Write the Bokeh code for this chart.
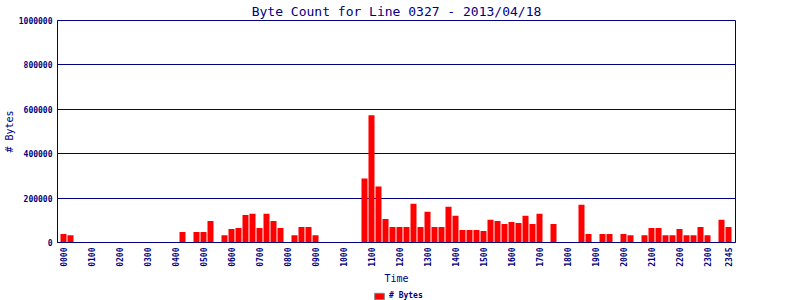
from bokeh.plotting import figure
from bokeh.models import ColumnDataSource, Range1d, FixedTicker, Legend, LegendItem
from bokeh.layouts import column
from bokeh.embed import file_html
from bokeh.resources import INLINE
import math

times = ["0000", "0015", "0030", "0045", "0100", "0115", "0130", "0145",
         "0200", "0215", "0230", "0245", "0300", "0315", "0330", "0345",
         "0400", "0415", "0430", "0445", "0500", "0515", "0530", "0545",
         "0600", "0615", "0630", "0645", "0700", "0715", "0730", "0745",
         "0800", "0815", "0830", "0845", "0900", "0915", "0930", "0945",
         "1000", "1015", "1030", "1045", "1100", "1115", "1130", "1145",
         "1200", "1215", "1230", "1245", "1300", "1315", "1330", "1345",
         "1400", "1415", "1430", "1445", "1500", "1515", "1530", "1545",
         "1600", "1615", "1630", "1645", "1700", "1715", "1730", "1745",
         "1800", "1815", "1830", "1845", "1900", "1915", "1930", "1945",
         "2000", "2015", "2030", "2045", "2100", "2115", "2130", "2145",
         "2200", "2215", "2230", "2245", "2300", "2315", "2330", "2345"]

byte_counts = [38000, 33000, 0, 0, 0, 0, 0, 0,
               0, 0, 0, 0, 0, 0, 0, 0,
               0, 47000, 0, 47000, 47000, 97000, 0, 33000,
               61000, 65000, 124000, 129000, 65000, 129000, 97000, 65000,
               0, 33000, 70000, 70000, 33000, 0, 0, 0,
               0, 0, 0, 288000, 573000, 252000, 106000, 70000,
               70000, 70000, 174000, 70000, 138000, 70000, 70000, 161000,
               120000, 56000, 56000, 56000, 52000, 102000, 97000, 83000,
               92000, 88000, 120000, 83000, 129000, 0, 83000, 0,
               0, 0, 170000, 38000, 0, 38000, 38000, 0,
               38000, 33000, 0, 33000, 65000, 65000, 33000, 33000,
               61000, 33000, 33000, 70000, 33000, 0, 102000, 70000]

x_tick_labels = ["0000", "0100", "0200", "0300", "0400", "0500", "0600", "0700",
                 "0800", "0900", "1000", "1100", "1200", "1300", "1400", "1500",
                 "1600", "1700", "1800", "1900", "2000", "2100", "2200", "2300", "2345"]
y_ticks = [0, 200000, 400000, 600000, 800000, 1000000]
y_tick_labels = ["0", "200000", "400000", "600000", "800000", "1000000"]
series_name = "# Bytes"

NAVY = "#000080"
MONO = "DejaVu Sans Mono"

idx = list(range(len(times)))
source = ColumnDataSource(data=dict(x=idx, y=byte_counts, t=times))

p = figure(width=800, height=291, output_backend="svg", toolbar_location=None,
           x_range=Range1d(-0.857, 96), y_range=Range1d(0, 1000000),
           min_border_left=57, min_border_right=65, min_border_top=20,
           min_border_bottom=49, background_fill_color="white",
           border_fill_color="white")

p.title.text = "Byte Count for Line 0327 - 2013/04/18"
p.title.align = "center"
p.title.vertical_align = "top"
p.title.text_font = MONO
p.title.text_font_style = "normal"
p.title.text_font_size = "13px"
p.title.text_color = NAVY
p.title.standoff = 0

p.vbar(x="x", top="y", width=0.86, source=source,
       fill_color="#ff0000", line_color=None)

p.outline_line_color = NAVY
p.outline_line_width = 1
p.xgrid.grid_line_color = None
p.ygrid.grid_line_color = NAVY
p.ygrid.grid_line_alpha = 1
p.ygrid.ticker = FixedTicker(ticks=y_ticks)

tick_pos = [times.index(t) for t in x_tick_labels]
p.xaxis.ticker = FixedTicker(ticks=tick_pos)
p.xaxis.major_label_overrides = {tp: lab for tp, lab in zip(tick_pos, x_tick_labels)}
p.xaxis.major_label_orientation = math.pi / 2
p.xaxis.axis_label = "Time"

p.yaxis.ticker = FixedTicker(ticks=y_ticks)
p.yaxis.major_label_overrides = {v: lab for v, lab in zip(y_ticks, y_tick_labels)}
p.yaxis.axis_label = series_name

for ax in (p.xaxis, p.yaxis):
    ax.axis_line_color = NAVY
    ax.major_tick_line_color = None
    ax.minor_tick_line_color = None
    ax.major_tick_out = 0
    ax.major_tick_in = 0
    ax.minor_tick_out = 0
    ax.minor_tick_in = 0
    ax.major_label_text_font = MONO
    ax.major_label_text_font_style = "bold"
    ax.major_label_text_font_size = "8px"
    ax.major_label_text_color = NAVY
    ax.major_label_standoff = 5
    ax.axis_label_text_font = MONO
    ax.axis_label_text_font_style = "normal"
    ax.axis_label_text_font_size = "10px"
    ax.axis_label_text_color = NAVY
    ax.axis_label_standoff = 3
p.yaxis.axis_label_standoff = 1

# legend strip below the chart (proxy renderer kept off-canvas)
lg = figure(width=800, height=9, output_backend="svg", toolbar_location=None,
            x_range=Range1d(0, 800), y_range=Range1d(0, 9),
            min_border=0, min_border_left=0, min_border_right=0,
            min_border_top=0, min_border_bottom=0,
            x_axis_type=None, y_axis_type=None,
            background_fill_color="white", border_fill_color="white")
lg.outline_line_color = None
lg.grid.visible = False
proxy = lg.vbar(x=[-100], top=[1], bottom=[0], width=1,
                fill_color="#ff0000", line_color="#808080", line_width=1)
legend = Legend(items=[LegendItem(label=series_name, renderers=[proxy])],
                location=(316, 0), orientation="horizontal",
                glyph_width=12, glyph_height=8, label_height=8,
                label_standoff=4, padding=0, margin=0, spacing=0,
                border_line_color=None, background_fill_alpha=0,
                label_text_font=MONO, label_text_font_style="bold",
                label_text_font_size="8px", label_text_color=NAVY)
lg.add_layout(legend, "center")

layout = column(p, lg, spacing=0)
open("out.html", "w").write(file_html(layout, INLINE))
